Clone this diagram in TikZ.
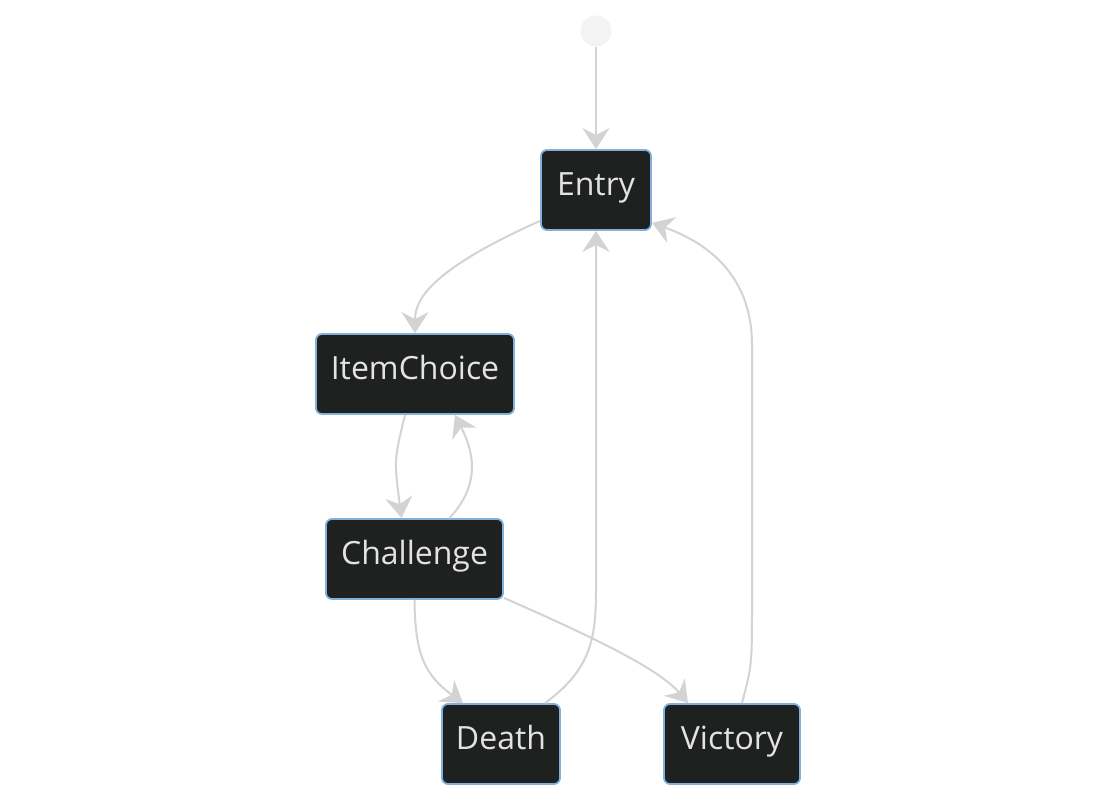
\documentclass[tikz,border=0pt]{standalone}
\usepackage{fontspec}
\setmainfont{Open Sans}
\usetikzlibrary{arrows.meta}

\definecolor{stateFill}{HTML}{1F2020}
\definecolor{stateBorder}{HTML}{81B1DB}
\definecolor{stateText}{HTML}{E3E3E3}
\definecolor{edgeGray}{HTML}{D3D3D3}
\definecolor{startGray}{HTML}{F3F3F3}

\begin{document}
\begin{tikzpicture}[x = 1pt, y = -1pt,
		state/.style = {draw = stateBorder, fill = stateFill, line width = 1.8pt,
			rounded corners = 6pt, minimum height = 80pt, inner sep = 0pt,
			text height = 25pt, text depth = 15pt,
			text = stateText, font = \fontsize{32}{34}\selectfont},
		trans/.style = {draw = edgeGray, line width = 2pt,
			-{Stealth[length = 21pt, width = 27pt, inset = 7pt]}}]
	
		\useasboundingbox[fill = white] (0, 0) rectangle (1116, 801);
		
		\node[circle, fill = startGray, minimum size = 31pt, inner sep = 0pt] (start) at (596, 31) {};
		
		\node[state, minimum width = 110pt] (entry) at (596, 190) {Entry};
		\node[state, minimum width = 198pt] (item) at (415, 374) {ItemChoice};
		\node[state, minimum width = 177pt] (challenge) at (414.5, 559) {Challenge};
		\node[state, minimum width = 118pt] (death) at (501, 744) {Death};
		\node[state, minimum width = 136pt] (victory) at (732, 744) {Victory};
		
		\draw[trans] (start) -- (entry);
		\draw[trans] ([yshift = 10pt]entry.south west) .. controls (430, 270) and (415, 300) .. (item.north);
		\draw[trans] ([xshift = -10pt]item.south) .. controls (394, 460) .. ([xshift = -13pt]challenge.north);
		\draw[trans] ([xshift = 35pt]challenge.north) .. controls (485, 480) and (470, 445) .. ([xshift = 40pt]item.south);
		\draw[trans] (challenge.south) .. controls (415, 655) and (425, 675) .. ([xshift = -38pt]death.north);
		\draw[trans] ([yshift = 2pt]challenge.south east) .. controls (600, 640) and (660, 670) .. ([xshift = -44pt]victory.north);
		\draw[trans] ([xshift = 44pt]death.north) .. controls (590, 670) and (596, 640) .. (596, 590) -- (entry.south);
		\draw[trans] ([xshift = 10pt]victory.north) .. controls (752, 665) .. (752, 600) -- (752, 345)
			.. controls (752, 270) and (700, 240) .. ([yshift = 8pt]entry.south east);
		
	\end{tikzpicture}
\end{document}
